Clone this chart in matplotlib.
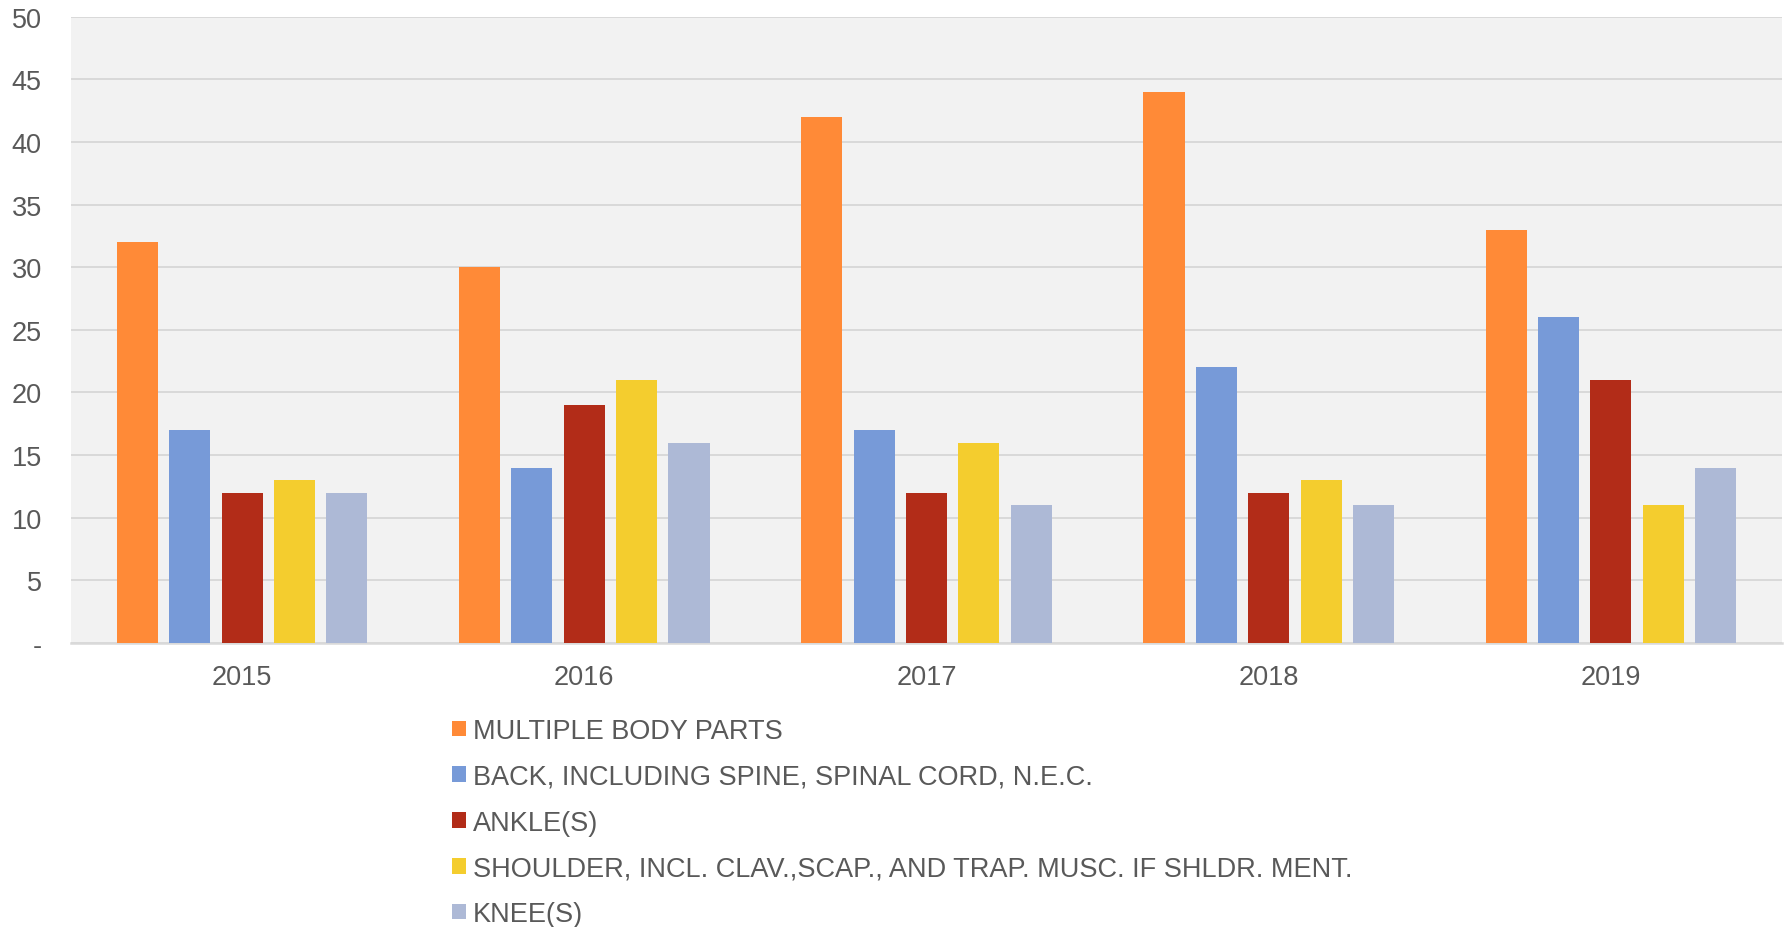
import numpy as np
import matplotlib
matplotlib.use("Agg")
import matplotlib.pyplot as plt

plt.rcParams['font.family'] = ['Liberation Sans', 'DejaVu Sans']

years = ["2015", "2016", "2017", "2018", "2019"]
series_names = [
    "MULTIPLE BODY PARTS",
    "BACK, INCLUDING SPINE, SPINAL CORD, N.E.C.",
    "ANKLE(S)",
    "SHOULDER, INCL. CLAV.,SCAP., AND TRAP. MUSC. IF SHLDR. MENT.",
    "KNEE(S)",
]
multiple = [32, 30, 42, 44, 33]
back = [17, 14, 17, 22, 26]
ankle = [12, 19, 12, 12, 21]
shoulder = [13, 21, 16, 13, 11]
knee = [12, 16, 11, 11, 14]
colors = ["#FF8A37", "#779AD8", "#B22C18", "#F4CD2E", "#ADB9D6"]

text_color = "#595959"
grid_color = "#D9D9D9"

fig = plt.figure(figsize=(17.85, 9.28), dpi=100)
ax = fig.add_axes([71 / 1785, 1 - 644 / 928, (1782 - 71) / 1785, (644 - 17.7) / 928])
ax.set_facecolor("#F2F2F2")

x = np.arange(len(years))
width = 0.12
step = 0.153
all_series = [multiple, back, ankle, shoulder, knee]
for i, (vals, name, c) in enumerate(zip(all_series, series_names, colors)):
    ax.bar(x + (i - 2) * step, vals, width, color=c, label=name, zorder=3)

ax.set_xlim(-0.5, len(years) - 0.5)
ax.set_ylim(0, 50)
ax.set_yticks(range(0, 51, 5))
ax.set_yticklabels(["-"] + [str(v) for v in range(5, 51, 5)])
ax.set_xticks(x)
ax.set_xticklabels(years)
ax.yaxis.grid(True, color=grid_color, linewidth=1.4, zorder=0)
ax.set_axisbelow(True)
for s in ["top", "right", "left"]:
    ax.spines[s].set_visible(False)
ax.spines["bottom"].set_color(grid_color)
ax.spines["bottom"].set_linewidth(1.8)
ax.tick_params(axis="both", length=0, labelsize=19.5, labelcolor=text_color)
ax.tick_params(axis="y", pad=21)
ax.tick_params(axis="x", pad=15)

leg = fig.legend(loc="upper left", bbox_to_anchor=(452 / 1785, 1 - 719 / 928),
                 frameon=False, fontsize=19.5, handlelength=0.52, handleheight=0.52,
                 handletextpad=0.25, labelspacing=0.73, borderpad=0, borderaxespad=0)
for t in leg.get_texts():
    t.set_color(text_color)

fig.savefig("out.png", dpi=100)
